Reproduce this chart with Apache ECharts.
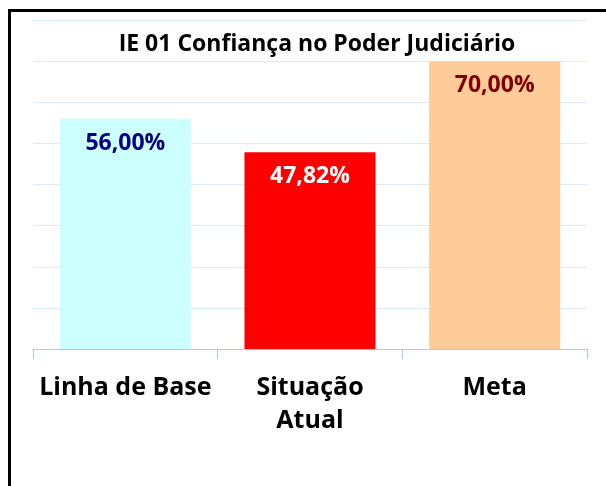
<!DOCTYPE html>
<html>
<head>
<meta charset="utf-8">
<script src="https://cdn.jsdelivr.net/npm/echarts@6/dist/echarts.min.js"></script>
<style>
  html, body { margin: 0; padding: 0; background: #fff; }
  #chart { width: 606px; height: 486px; }
</style>
</head>
<body>
<div id="chart"></div>
<script>
const categories = ['Linha de Base', 'Situação\nAtual', 'Meta']
const values = [56.0, 47.82, 70.0]
const barColors = ['#CCFFFF', '#FF0000', '#FFCC99']
const labelColors = ['#000080', '#FFFFFF', '#800000']

const font = 'Open Sans'

const chart = echarts.init(document.getElementById('chart'))

chart.setOption({
  animation: false,
  title: {
    text: 'IE 01 Confiança no Poder Judiciário',
    left: 312,
    textAlign: 'center',
    top: 28,
    textStyle: { fontFamily: font, fontWeight: 'bold', fontSize: 23, color: '#000' },
  },
  graphic: [
    {
      type: 'rect',
      shape: { x: 9.5, y: 10.5, width: 700, height: 600 },
      style: { fill: 'none', stroke: '#000', lineWidth: 3 },
      z: 100,
    },
  ],
  grid: { left: 33, right: 19, top: 20, bottom: 137 },
  xAxis: {
    type: 'category',
    data: categories,
    axisLine: { lineStyle: { color: '#A6CAF0', width: 1 } },
    axisTick: { show: true, length: 10, lineStyle: { color: '#A6CAF0' } },
    axisLabel: {
      interval: 0,
      margin: 22,
      fontFamily: font,
      fontWeight: 'bold',
      fontSize: 25,
      lineHeight: 33,
      color: '#000',
    },
  },
  yAxis: {
    type: 'value',
    min: 0,
    max: 80,
    interval: 10,
    axisLabel: { show: false },
    axisLine: { show: false },
    axisTick: { show: false },
    splitLine: { lineStyle: { color: '#DCE9F8', width: 1 } },
  },
  series: [
    {
      type: 'bar',
      barWidth: 131,
      data: values.map((v, i) => ({
        value: v,
        itemStyle: { color: barColors[i] },
        label: { color: labelColors[i] },
      })),
      label: {
        show: true,
        position: 'insideTop',
        distance: 13,
        fontFamily: font,
        fontWeight: 'bold',
        fontSize: 23,
        formatter: (p) => p.value.toFixed(2).replace('.', ',') + '%',
      },
    },
  ],
})
</script>
</body>
</html>
